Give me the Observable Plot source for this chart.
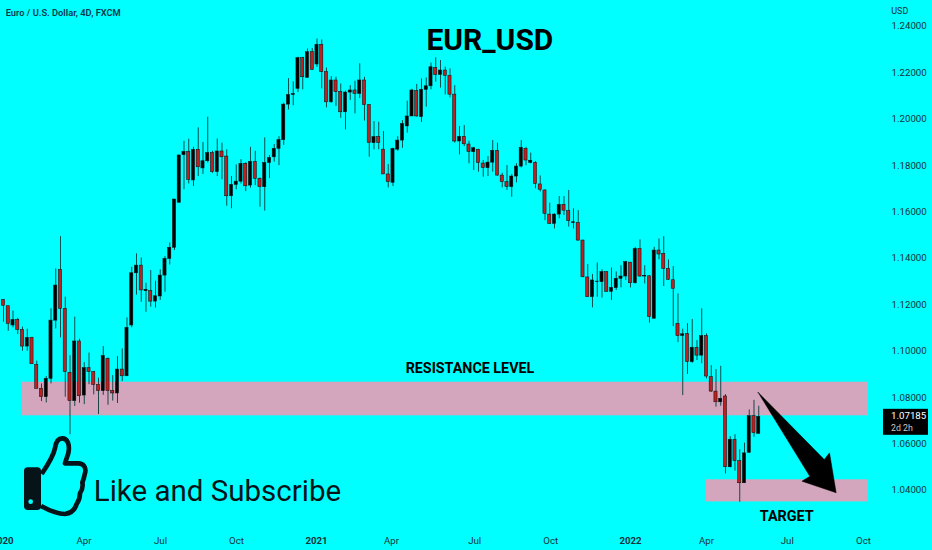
<!DOCTYPE html>
<html>
<head>
<meta charset="utf-8">
<script src="https://cdn.jsdelivr.net/npm/d3@7"></script>
<script src="https://cdn.jsdelivr.net/npm/@observablehq/plot@0.6"></script>
<style>
html,body{margin:0;padding:0;background:#00ffff;}
#chart{width:932px;height:550px;overflow:hidden;}
svg{display:block;background:transparent;overflow:visible;}
</style>
</head>
<body>
<div id="chart"></div>
<script>
const opens = [
1.1220,1.1193,1.1110,1.1134,1.1091,1.1019,1.1057,1.0940,1.0837,1.0801,
1.0880,1.1131,1.1350,1.1182,1.0906,1.0784,1.1041,1.0808,1.0926,1.0909,
1.0854,1.0827,1.0966,1.0828,1.0817,1.0920,1.0891,1.1110,1.1335,1.1368,
1.1258,1.1258,1.1213,1.1235,1.1325,1.1397,1.1445,1.1639,1.1844,1.1858,
1.1735,1.1867,1.1787,1.1818,1.1853,1.1771,1.1860,1.1838,1.1667,1.1716,
1.1730,1.1807,1.1713,1.1815,1.1742,1.1706,1.1810,1.1835,1.1871,1.1909,
1.2062,1.2103,1.2130,1.2262,1.2177,1.2288,1.2235,1.2320,1.2202,1.2072,
1.2166,1.2117,1.2029,1.2114,1.2123,1.2108,1.2166,1.2060,1.1896,1.1922,
1.1868,1.1761,1.1725,1.1868,1.1907,1.1968,1.2011,1.2120,1.2008,1.2126,
1.2141,1.2220,1.2190,1.2209,1.2186,1.2105,1.1903,1.1923,1.1890,1.1857,
1.1867,1.1808,1.1788,1.1812,1.1863,1.1756,1.1728,1.1706,1.1752,1.1795,
1.1871,1.1811,1.1811,1.1718,1.1692,1.1588,1.1548,1.1588,1.1630,1.1603,
1.1551,1.1552,1.1476,1.1317,1.1232,1.1297,1.1297,1.1340,1.1255,1.1271,
1.1311,1.1321,1.1381,1.1292,1.1440,1.1321,1.1322,1.1139,1.1433,1.1419,
1.1354,1.1305,1.1117,1.1065,1.1074,1.0952,1.1014,1.0980,1.1064,1.0887,
1.0825,1.0779,1.0804,1.0499,1.0617,1.0525,1.0430,1.0561,1.0719,1.0643];
const closes = [
1.1195,1.1117,1.1134,1.1091,1.1019,1.1057,1.0943,1.0837,1.0801,1.0880,
1.1131,1.1282,1.1182,1.0909,1.0784,1.1041,1.0805,1.0926,1.0909,1.0854,
1.0827,1.0978,1.0827,1.0817,1.0920,1.0891,1.1100,1.1335,1.1368,1.1261,
1.1264,1.1213,1.1236,1.1325,1.1397,1.1445,1.1653,1.1843,1.1858,1.1738,
1.1867,1.1792,1.1818,1.1853,1.1771,1.1860,1.1835,1.1667,1.1716,1.1730,
1.1807,1.1710,1.1815,1.1742,1.1706,1.1810,1.1832,1.1871,1.1909,1.2062,
1.2103,1.2108,1.2262,1.2180,1.2288,1.2212,1.2320,1.2202,1.2072,1.2166,
1.2116,1.2029,1.2114,1.2123,1.2108,1.2166,1.2060,1.1896,1.1922,1.1897,
1.1761,1.1728,1.1871,1.1907,1.1978,1.2011,1.2123,1.2011,1.2126,1.2141,
1.2223,1.2190,1.2209,1.2186,1.2105,1.1903,1.1923,1.1891,1.1857,1.1874,
1.1810,1.1788,1.1812,1.1863,1.1756,1.1728,1.1706,1.1752,1.1795,1.1876,
1.1821,1.1820,1.1720,1.1695,1.1591,1.1548,1.1588,1.1630,1.1605,1.1560,
1.1555,1.1476,1.1318,1.1232,1.1304,1.1299,1.1340,1.1255,1.1272,1.1311,
1.1321,1.1383,1.1292,1.1440,1.1321,1.1324,1.1146,1.1433,1.1416,1.1354,
1.1307,1.1268,1.1064,1.1072,1.0952,1.1014,1.0980,1.1064,1.0890,1.0825,
1.0779,1.0794,1.0499,1.0617,1.0525,1.0430,1.0559,1.0719,1.0646,1.0716];
const highs = [
1.1220,1.1193,1.1172,1.1141,1.1103,1.1094,1.1059,1.0956,1.0858,1.0890,
1.1182,1.1354,1.1493,1.1232,1.0980,1.1146,1.1051,1.0950,1.0991,1.0912,
1.0883,1.1019,1.0970,1.0894,1.0976,1.1009,1.1143,1.1361,1.1419,1.1401,
1.1292,1.1347,1.1301,1.1350,1.1407,1.1466,1.1653,1.1843,1.1904,1.1913,
1.1878,1.1962,1.1899,1.2008,1.1861,1.1914,1.1896,1.1867,1.1752,1.1802,
1.1825,1.1812,1.1878,1.1861,1.1746,1.1919,1.1843,1.1890,1.1924,1.2068,
1.2174,1.2160,1.2266,1.2266,1.2302,1.2304,1.2345,1.2341,1.2220,1.2183,
1.2180,1.2151,1.2120,1.2144,1.2163,1.2238,1.2180,1.2062,1.1989,1.1986,
1.1946,1.1804,1.1874,1.1924,1.1993,1.2077,1.2128,1.2149,1.2173,1.2177,
1.2241,1.2264,1.2252,1.2223,1.2216,1.2144,1.1968,1.1972,1.1904,1.1878,
1.1870,1.1821,1.1838,1.1907,1.1896,1.1766,1.1799,1.1761,1.1807,1.1907,
1.1878,1.1853,1.1817,1.1755,1.1695,1.1637,1.1591,1.1666,1.1666,1.1692,
1.1613,1.1605,1.1479,1.1373,1.1330,1.1380,1.1350,1.1340,1.1358,1.1341,
1.1368,1.1386,1.1381,1.1447,1.1479,1.1368,1.1325,1.1447,1.1483,1.1493,
1.1393,1.1364,1.1246,1.1094,1.1118,1.1136,1.1045,1.1182,1.1074,1.0937,
1.0920,1.0934,1.0812,1.0631,1.0639,1.0574,1.0603,1.0746,1.0787,1.0762];
const lows = [
1.1124,1.1085,1.1100,1.1071,1.0999,1.0999,1.0943,1.0837,1.0782,1.0776,
1.0858,1.1095,1.1057,1.0801,1.0639,1.0761,1.0775,1.0769,1.0855,1.0811,
1.0726,1.0809,1.0766,1.0784,1.0774,1.0868,1.0891,1.1100,1.1241,1.1210,
1.1167,1.1189,1.1185,1.1218,1.1253,1.1371,1.1433,1.1639,1.1695,1.1720,
1.1709,1.1752,1.1761,1.1810,1.1766,1.1752,1.1738,1.1624,1.1613,1.1695,
1.1720,1.1687,1.1702,1.1713,1.1620,1.1603,1.1743,1.1814,1.1799,1.1886,
1.2039,1.2057,1.2114,1.2126,1.2177,1.2209,1.2223,1.2130,1.2048,1.2068,
1.2054,1.2003,1.1953,1.2080,1.2022,1.2088,1.1991,1.1835,1.1867,1.1867,
1.1761,1.1703,1.1709,1.1860,1.1874,1.1939,1.2011,1.2008,1.1985,1.2051,
1.2126,1.2159,1.2133,1.2104,1.2091,1.1896,1.1845,1.1881,1.1807,1.1778,
1.1771,1.1749,1.1752,1.1771,1.1753,1.1703,1.1692,1.1663,1.1725,1.1789,
1.1799,1.1807,1.1699,1.1685,1.1562,1.1545,1.1526,1.1570,1.1584,1.1534,
1.1526,1.1473,1.1315,1.1232,1.1186,1.1232,1.1228,1.1254,1.1218,1.1261,
1.1272,1.1304,1.1272,1.1289,1.1318,1.1289,1.1120,1.1139,1.1393,1.1278,
1.1304,1.1105,1.1036,1.0808,1.0899,1.0947,1.0959,1.0945,1.0880,1.0822,
1.0758,1.0762,1.0470,1.0496,1.0482,1.0348,1.0430,1.0559,1.0628,1.0643];

const priceTicks = [1.04,1.06,1.08,1.10,1.12,1.14,1.16,1.18,1.20,1.22,1.24];
const timeLabels = ["2020","Apr","Jul","Oct","2021","Apr","Jul","Oct","2022","Apr","Jul","Oct"];
const timeBars   = [0.8,17.95,34.05,50.05,66.9,82.7,100.2,116.2,133,149,166,182.05];
const yearLabels = ["2020","2021","2022"];

const lastPrice = 1.07185;
const bands = [
  {x1:5,   x2:183, y1:1.07207, y2:1.08655},
  {x1:149, x2:183, y1:1.03495, y2:1.04448}
];
const arrowBar   = [159.85,173.8,174.9,176.3,169.1,170.75,159.85];
const arrowPrice = [1.0822,1.0532,1.0561,1.0389,1.0439,1.0460,1.0822];

const candles = opens.map((o,i)=>({i:i+1,o,c:closes[i],h:highs[i],l:lows[i],
  top:Math.max(o,closes[i]),bot:Math.min(o,closes[i]),up:closes[i]>=o}));
const arrow = arrowBar.map((b,i)=>({b,p:arrowPrice[i]}));
const timeRows = timeLabels.map((t,i)=>({t,b:timeBars[i],year:yearLabels.includes(t)}));
const bodyHalf = 0.33;

function thumb(index,scales,values,dim){
  const g = d3.create("svg:g").attr("transform","translate(15,430) scale(0.3333)");
  g.append("path")
    .attr("d","M80 132 C95 110 115 80 120 55 C122 38 128 25 142 25 C158 25 165 45 160 70 L150 100 L190 100 C205 100 215 112 210 130 C208 140 205 150 202 158 C205 170 200 182 195 190 C195 205 190 215 185 222 C180 240 168 250 150 252 C125 252 100 240 78 228")
    .attr("fill","none").attr("stroke","#06141a").attr("stroke-width",14).attr("stroke-linejoin","round");
  g.append("rect").attr("x",27).attr("y",112).attr("width",51).attr("height",128).attr("rx",11).attr("fill","#06141a");
  g.append("circle").attr("cx",47).attr("cy",215).attr("r",7).attr("fill","#00ffff");
  return g.node();
}
function priceTag(index,scales,values,dim){
  const y = scales.y(lastPrice);
  const g = d3.create("svg:g").attr("font-family","Roboto, sans-serif").attr("text-anchor","start");
  g.append("rect").attr("x",883).attr("y",y-7).attr("width",45).attr("height",26).attr("fill","#000");
  g.append("text").attr("x",891).attr("y",y+3.5).attr("fill","#fff").attr("font-size",9.7).text(lastPrice.toFixed(5));
  g.append("text").attr("x",891).attr("y",y+15).attr("fill","#c8c8c8").attr("font-size",8.8).text("2d 2h");
  return g.node();
}

const chart = Plot.plot({
  width:932, height:550,
  marginTop:0, marginBottom:0, marginLeft:0, marginRight:42,
  style:{background:"transparent",overflow:"visible"},
  x:{domain:[0.368,187.74],axis:null},
  y:{domain:[1.01401,1.25108],axis:null},
  marks:[
    Plot.rect(bands,{x1:"x1",x2:"x2",y1:"y1",y2:"y2",fill:"#d4a6bd"}),
    Plot.ruleX(candles,{x:"i",y1:"l",y2:"h",stroke:"#063a3a",strokeWidth:0.9}),
    Plot.rect(candles,{x1:d=>d.i-bodyHalf,x2:d=>d.i+bodyHalf,y1:"bot",y2:"top",
      fill:d=>d.up?"#000":"#c01f1f",stroke:"#0a1416",strokeWidth:0.55}),
    Plot.line(arrow,{x:"b",y:"p",fill:"#000",stroke:"#000",strokeWidth:0.5,curve:"linear"}),
    thumb,
    priceTag,
    Plot.axisY({anchor:"right",ticks:priceTicks,tickSize:0,tickPadding:1,label:null,
      tickFormat:d=>d.toFixed(5),fontSize:9.7,fontFamily:"Roboto, sans-serif",fill:"#14323c",color:"#14323c"}),
    Plot.text(timeRows.filter(d=>!d.year),{x:"b",text:"t",frameAnchor:"bottom",dy:-7,fontSize:9.7,fontFamily:"Roboto, sans-serif",fill:"#14323c"}),
    Plot.text(timeRows.filter(d=>d.year),{x:"b",text:"t",frameAnchor:"bottom",dy:-7,fontSize:9.7,fontWeight:700,fontFamily:"Roboto, sans-serif",fill:"#14323c"}),
    Plot.text(["USD"],{x:[187.9],y:[1.2465],text:d=>d,textAnchor:"start",fontSize:9,fontFamily:"Roboto, sans-serif",fill:"#14323c"}),
    Plot.text(["Euro / U.S. Dollar, 4D, FXCM"],{x:[1.45],y:[1.2458],text:d=>d,textAnchor:"start",fontSize:9.3,fontWeight:600,fontFamily:"Roboto, sans-serif",fill:"#0b3a50"}),
    Plot.text(["EUR_USD"],{x:[103.4],y:[1.2338],text:d=>d,fontSize:30,fontWeight:700,fontFamily:"Roboto, sans-serif",fill:"#000"}),
    Plot.text(["RESISTANCE LEVEL"],{x:[99.2],y:[1.0925],text:d=>d,fontSize:14.3,fontWeight:700,fontFamily:"Roboto, sans-serif",fill:"#000"}),
    Plot.text(["TARGET"],{x:[165.9],y:[1.0289],text:d=>d,fontSize:14.4,fontWeight:700,fontFamily:"Roboto, sans-serif",fill:"#000"}),
    Plot.text(["Like and Subscribe"],{x:[20],y:[1.0394],text:d=>d,textAnchor:"start",fontSize:29.5,fontWeight:400,fontFamily:"Roboto, sans-serif",fill:"#06141a"})
  ]
});
document.getElementById("chart").appendChild(chart);
</script>
</body>
</html>
